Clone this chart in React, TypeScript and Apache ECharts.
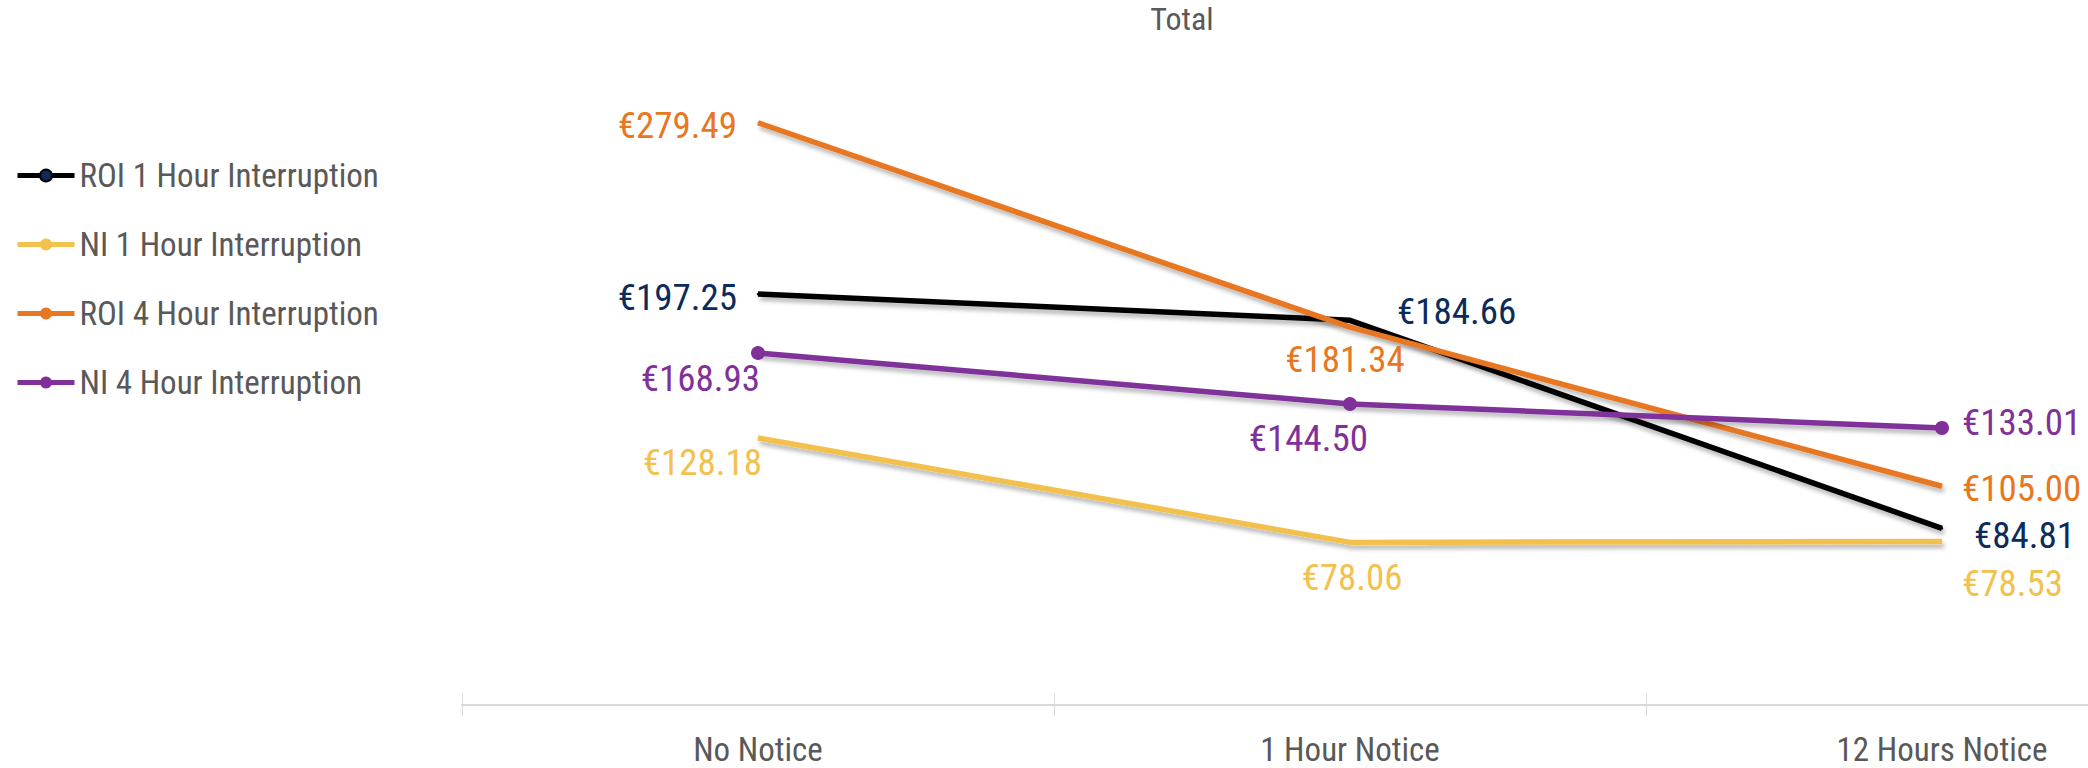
import React, { useEffect, useRef } from "react";
import * as echarts from "echarts";

const categories = ["No Notice", "1 Hour Notice", "12 Hours Notice"];
const seriesNames = [
  "ROI 1 Hour Interruption",
  "NI 1 Hour Interruption",
  "ROI 4 Hour Interruption",
  "NI 4 Hour Interruption",
];
const roi1h = [197.25, 184.66, 84.81];
const ni1h = [128.18, 78.06, 78.53];
const roi4h = [279.49, 181.34, 105.0];
const ni4h = [168.93, 144.5, 133.01];

const FONT = "'Liberation Sans Narrow', 'Roboto Condensed', Roboto, sans-serif";
const GRAY = "#595959";

// label placement (offset from point, alignment) per series per point
const labelLayout: { off: [number, number]; align: string }[][] = [
  [
    { off: [-21, 3], align: "right" },
    { off: [47, -9], align: "left" },
    { off: [32, 7], align: "left" },
  ],
  [
    { off: [4, 25], align: "right" },
    { off: [2, 35], align: "center" },
    { off: [20, 42], align: "left" },
  ],
  [
    { off: [-21, 3], align: "right" },
    { off: [-5, 32], align: "center" },
    { off: [20, 2], align: "left" },
  ],
  [
    { off: [2, 25], align: "right" },
    { off: [18, 35], align: "right" },
    { off: [20, -5], align: "left" },
  ],
];

const lineColors = ["#000000", "#F2C14E", "#E87722", "#7F3199"];
const labelColors = ["#0C2B5B", "#F2C14E", "#E87722", "#7F3199"];
const pointColors = ["#0C2B5B", "#F2C14E", "#E87722", "#7F3199"];

export default function App() {
  const ref = useRef<HTMLDivElement>(null);
  useEffect(() => {
    if (!ref.current) return;
    const chart = echarts.init(ref.current, undefined, { renderer: "svg" });
    const all = [roi1h, ni1h, roi4h, ni4h];
    const series = all.map((vals, si) => ({
      name: seriesNames[si],
      type: "line",
      xAxisIndex: 0,
      symbol: "circle",
      symbolSize: si === 3 ? 14 : 1,
      itemStyle: {
        color: pointColors[si],
        borderColor: si === 0 ? "#000" : pointColors[si],
        borderWidth: si === 0 ? 1.5 : 0,
      },
      lineStyle: {
        color: lineColors[si],
        width: 5.5,
        shadowColor: "rgba(0,0,0,0.28)",
        shadowBlur: 4,
        shadowOffsetX: 2,
        shadowOffsetY: 4,
      },
      z: [3, 2, 4, 5][si],
      data: vals.map((v, i) => ({
        value: v,
        label: {
          show: true,
          position: "inside",
          offset: labelLayout[si][i].off,
          align: labelLayout[si][i].align,
          verticalAlign: "middle",
          formatter: (p: any) => "€" + Number(p.value).toFixed(2),
          color: labelColors[si],
          fontFamily: FONT,
          fontSize: 37,
        },
      })),
    }));
    chart.setOption({
      animation: false,
      title: {
        text: "Total",
        left: 1182,
        top: 3,
        textAlign: "center",
        padding: 0,
        textStyle: { color: GRAY, fontFamily: FONT, fontSize: 32, fontWeight: "normal" },
      },
      legend: {
        orient: "vertical",
        left: 15,
        top: 159,
        itemWidth: 57,
        itemHeight: 15,
        itemGap: 36,
        padding: 0,
        data: seriesNames,
        lineStyle: { width: 5 },
        textStyle: { color: GRAY, fontFamily: FONT, fontSize: 33 },
      },
      grid: { left: 462, width: 1776, top: 80, height: 625, outerBoundsMode: "none" },
      xAxis: [
        {
          type: "category",
          data: categories,
          position: "bottom",
          axisLine: { lineStyle: { color: "#D9D9D9", width: 2 } },
          axisTick: { show: true, length: 11, lineStyle: { color: "#D9D9D9", width: 1 } },
          axisLabel: { color: GRAY, fontFamily: FONT, fontSize: 33, margin: 28 },
        },
        {
          type: "category",
          data: categories,
          position: "bottom",
          axisLine: { show: false },
          axisTick: { show: true, inside: true, length: 11, lineStyle: { color: "#D9D9D9", width: 1 } },
          axisLabel: { show: false },
        },
      ],
      yAxis: { type: "value", min: 0, max: 300, show: false },
      series,
    });
    return () => chart.dispose();
  }, []);
  return (
    <div
      ref={ref}
      style={{ position: "fixed", left: 0, top: 0, width: 2088, height: 768, background: "#fff" }}
    />
  );
}
